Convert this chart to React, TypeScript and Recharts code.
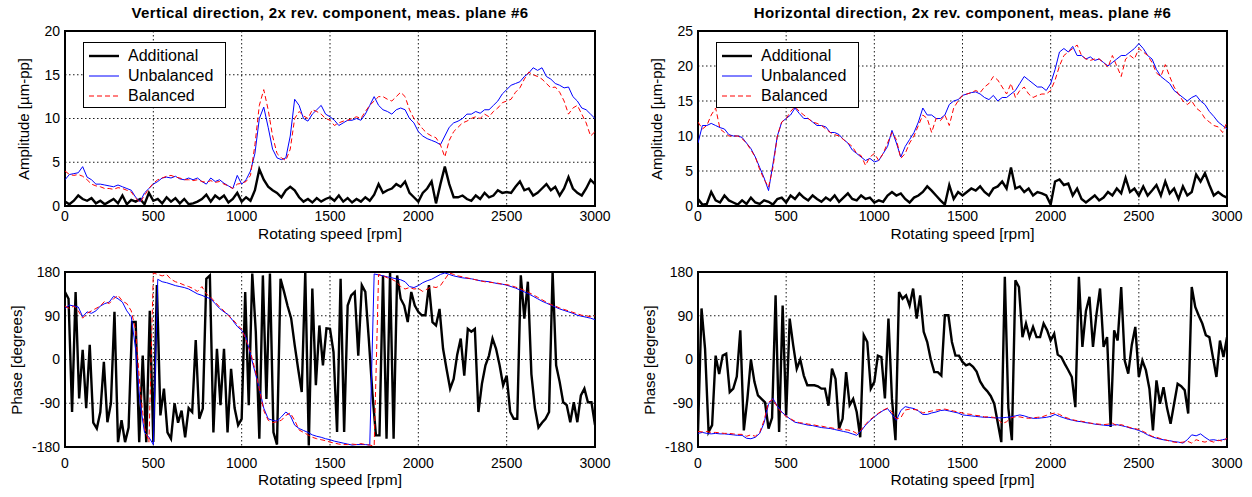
import React from 'react';
import { LineChart, Line, XAxis, YAxis, CartesianGrid, ReferenceArea, Legend } from 'recharts';

// rotating speed grid [rpm]
const speed = [
  0, 25, 50, 75, 100, 125, 150, 175, 200, 225,
  250, 275, 300, 325, 350, 375, 400, 425, 450, 475,
  500, 525, 550, 575, 600, 625, 650, 675, 700, 725,
  750, 775, 800, 825, 850, 875, 900, 925, 950, 975,
  1000, 1025, 1050, 1075, 1100, 1125, 1150, 1175, 1200, 1225,
  1250, 1275, 1300, 1325, 1350, 1375, 1400, 1425, 1450, 1475,
  1500, 1525, 1550, 1575, 1600, 1625, 1650, 1675, 1700, 1725,
  1750, 1775, 1800, 1825, 1850, 1875, 1900, 1925, 1950, 1975,
  2000, 2025, 2050, 2075, 2100, 2125, 2150, 2175, 2200, 2225,
  2250, 2275, 2300, 2325, 2350, 2375, 2400, 2425, 2450, 2475,
  2500, 2525, 2550, 2575, 2600, 2625, 2650, 2675, 2700, 2725,
  2750, 2775, 2800, 2825, 2850, 2875, 2900, 2925, 2950, 2975,
  3000,
];

// finer grid used by the "additional" phase traces
const speedFine = [
  0, 20, 40, 60, 80, 100, 120, 140, 160, 180,
  200, 220, 240, 260, 280, 300, 320, 340, 360, 380,
  400, 420, 440, 460, 480, 500, 520, 540, 560, 580,
  600, 620, 640, 660, 680, 700, 720, 740, 760, 780,
  800, 820, 840, 860, 880, 900, 920, 940, 960, 980,
  1000, 1020, 1040, 1060, 1080, 1100, 1120, 1140, 1160, 1180,
  1200, 1220, 1240, 1260, 1280, 1300, 1320, 1340, 1360, 1380,
  1400, 1420, 1440, 1460, 1480, 1500, 1520, 1540, 1560, 1580,
  1600, 1620, 1640, 1660, 1680, 1700, 1720, 1740, 1760, 1780,
  1800, 1820, 1840, 1860, 1880, 1900, 1920, 1940, 1960, 1980,
  2000, 2020, 2040, 2060, 2080, 2100, 2120, 2140, 2160, 2180,
  2200, 2220, 2240, 2260, 2280, 2300, 2320, 2340, 2360, 2380,
  2400, 2420, 2440, 2460, 2480, 2500, 2520, 2540, 2560, 2580,
  2600, 2620, 2640, 2660, 2680, 2700, 2720, 2740, 2760, 2780,
  2800, 2820, 2840, 2860, 2880, 2900, 2920, 2940, 2960, 2980,
  3000,
];

// amplitude, vertical direction [um-pp]
const ampVertAdditional = [
  0.5, 0.2, 0.6, 1.2, 0.8, 0.6, 0.9, 0.3, 0.6, 0.2,
  0.5, 0.8, 0.3, 1.2, 0.2, 0.7, 0.5, 0.8, 0.2, 1.5,
  0.6, 0.8, 0.3, 1.0, 0.5, 0.9, 0.3, 0.8, 0.2, 0.3,
  0.5, 0.8, 1.3, 0.5, 1.2, 0.8, 1.2, 0.4, 0.8, 1.5,
  0.5, 1.0, 0.6, 1.8, 4.2, 3.0, 2.2, 1.8, 1.5, 1.0,
  1.8, 2.2, 1.8, 1.0, 0.5, 0.8, 0.4, 0.9, 0.5, 0.8,
  1.0, 0.6, 1.2, 0.5, 0.9, 0.4, 0.8, 0.5, 1.0, 0.6,
  1.3, 2.5, 1.5, 1.8, 2.0, 2.5, 2.2, 2.8, 1.5, 1.0,
  0.5, 1.5, 2.0, 2.8, 0.3, 2.5, 4.5, 2.5, 1.0, 1.0,
  1.2, 0.8, 0.6, 1.2, 0.8, 1.5, 1.0, 1.2, 1.8, 1.5,
  1.6, 1.5, 2.2, 2.8, 1.8, 2.0, 1.2, 1.5, 2.0, 2.5,
  1.8, 2.2, 1.2, 2.0, 3.3, 2.0, 1.5, 1.2, 2.0, 3.0,
  2.5,
];
const ampVertUnbalanced = [
  3.0, 3.6, 3.7, 3.8, 4.5, 3.3, 3.0, 2.5, 2.5, 2.4,
  2.3, 2.2, 2.4, 2.2, 2.0, 1.8, 1.0, 0.5, 1.5, 2.0,
  2.5, 2.8, 3.2, 3.3, 3.2, 3.4, 3.1, 3.0, 3.2, 3.0,
  3.2, 2.8, 2.5, 3.2, 2.8, 3.0, 2.6, 2.3, 2.0, 3.5,
  2.5, 3.0, 4.0, 6.0, 10.0, 11.3, 9.0, 6.5, 5.5, 5.3,
  5.5, 8.0, 12.2, 11.5, 10.0, 9.7, 10.5, 11.0, 11.5, 10.5,
  10.2, 9.8, 9.2, 9.5, 9.8, 9.8, 10.0, 9.8, 10.5, 11.5,
  12.5, 11.5, 11.0, 10.8, 10.5, 11.0, 11.2, 11.0, 10.0, 9.5,
  8.5, 8.0, 7.7, 7.5, 7.3, 7.0, 8.0, 9.0, 9.5, 9.7,
  10.0, 10.5, 10.5, 10.8, 10.6, 11.0, 11.0, 11.5, 12.0, 12.8,
  13.3, 13.8, 14.0, 14.2, 14.8, 15.2, 15.8, 15.5, 15.8, 14.8,
  14.5, 14.0, 13.8, 13.5, 13.6, 12.5, 12.0, 11.2, 11.0, 10.5,
  10.0,
];
const ampVertBalanced = [
  4.0, 3.6, 3.5, 3.6, 3.4, 3.0, 2.5, 2.3, 2.2, 2.0,
  2.0, 1.9, 2.1, 2.0, 1.8, 1.6, 0.9, 0.4, 1.2, 2.0,
  2.6, 3.0, 3.2, 3.4, 3.5, 3.3, 3.2, 3.0, 3.0, 2.9,
  3.0, 2.8, 2.7, 2.9, 2.7, 2.8, 2.5, 2.3, 2.0, 2.5,
  2.6, 2.8, 3.5, 7.0, 11.5, 13.3, 11.0, 8.0, 6.0, 5.5,
  5.2, 6.5, 10.0, 10.8, 10.3, 10.0, 11.0, 10.8, 10.5, 10.0,
  9.8, 9.2, 9.5, 9.7, 9.8, 10.0, 10.2, 10.0, 10.8, 11.5,
  12.0, 12.5, 12.5, 12.2, 12.0, 12.5, 13.0, 12.5, 11.0, 10.0,
  9.5, 8.8, 8.3, 8.0, 7.8, 7.0, 5.6, 7.5, 8.5, 9.0,
  9.5, 9.7, 10.0, 10.2, 10.0, 10.5, 10.2, 10.8, 11.2, 11.8,
  12.0, 12.2, 13.0, 13.5, 14.5, 15.3, 15.0, 14.8, 14.5, 14.0,
  13.5, 13.6, 13.0, 12.0, 10.5, 11.2, 11.5, 10.5, 9.5, 8.0,
  8.5,
];

// amplitude, horizontal direction [um-pp]
const ampHorAdditional = [
  1.0, 0.2, 0.3, 2.0, 0.8, 0.5, 1.5, 0.8, 0.5, 0.2,
  0.8, 0.3, 1.2, 0.5, 0.3, 0.8, 0.6, 0.2, 1.0, 1.2,
  0.5, 1.5, 1.0, 1.8, 1.2, 0.8, 1.5, 1.0, 0.6, 1.2,
  0.8, 1.5, 0.6, 1.2, 1.8, 1.0, 0.8, 1.5, 1.0, 1.2,
  0.5, 0.8, 0.6, 1.5, 2.0, 1.5, 1.8, 1.0, 0.5, 1.2,
  1.5, 2.0, 2.8, 2.2, 1.5, 0.8, 0.2, 3.0, 1.0, 2.0,
  1.5, 2.0, 2.5, 2.2, 2.8, 2.0, 1.5, 2.5, 2.8, 3.5,
  2.5, 5.5, 2.5, 2.8, 2.0, 2.5, 1.5, 2.0, 1.8, 1.5,
  0.2, 3.5, 3.8, 3.0, 3.2, 1.5, 2.5, 1.0, 0.5, 1.0,
  1.5, 0.8, 1.2, 2.0, 1.5, 2.5, 1.8, 4.0, 2.0, 2.5,
  1.5, 2.8, 1.5, 2.2, 3.0, 1.5, 3.5, 1.8, 2.5, 1.0,
  2.8, 1.5, 2.0, 4.5, 3.5, 4.7, 3.0, 1.5, 2.0, 1.5,
  1.2,
];
const ampHorUnbalanced = [
  9.0, 11.5, 11.5, 11.8, 11.5, 11.2, 11.0, 10.2, 10.0, 10.0,
  9.8, 9.0, 8.2, 7.0, 5.5, 4.0, 2.2, 6.0, 10.0, 12.0,
  12.5, 13.0, 14.0, 13.2, 12.5, 12.5, 12.0, 11.5, 11.5, 11.3,
  10.5, 10.5, 10.2, 9.5, 9.0, 8.0, 7.5, 7.0, 6.5, 6.8,
  6.3, 6.5, 7.5, 8.5, 10.8, 9.0, 7.0, 8.5, 9.5, 10.5,
  12.0, 14.0, 13.0, 13.0, 12.5, 12.5, 13.0, 14.5, 15.0, 15.2,
  15.8, 16.0, 16.2, 16.3, 16.0, 15.5, 15.2, 15.8, 15.0, 15.5,
  15.5, 16.0, 16.5, 17.5, 18.5, 18.0, 17.5, 17.0, 17.0, 16.5,
  17.5, 19.5, 22.0, 22.5, 22.0, 22.8, 21.5, 21.5, 21.0, 21.3,
  20.8, 21.0, 20.5, 20.0, 20.5, 21.0, 21.5, 21.5, 22.0, 22.5,
  23.2, 22.5, 21.5, 21.0, 19.5, 18.5, 18.0, 17.5, 16.5, 16.0,
  15.5, 15.0, 15.5, 15.8, 15.0, 14.5, 13.5, 12.8, 12.0, 11.5,
  11.0,
];
const ampHorBalanced = [
  12.0, 11.0, 11.5, 13.0, 14.0, 11.0, 10.5, 10.0, 10.0, 10.0,
  9.6, 9.0, 8.0, 7.0, 5.2, 3.8, 2.7, 5.5, 10.0, 12.0,
  12.5, 13.5, 14.2, 13.5, 13.0, 12.5, 12.0, 11.8, 11.5, 11.0,
  10.5, 10.2, 10.0, 9.5, 9.0, 8.5, 7.5, 7.2, 5.8, 7.0,
  7.5, 6.5, 7.5, 9.0, 10.5, 9.5, 6.8, 7.5, 9.0, 10.0,
  11.5, 13.0, 12.5, 10.5, 12.5, 12.2, 13.0, 11.5, 14.0, 15.0,
  15.8, 16.0, 16.2, 16.5, 16.2, 17.0, 17.5, 18.5, 18.0, 17.0,
  16.0, 17.5, 15.5, 16.5, 17.0, 16.0, 15.5, 15.8, 16.0, 16.0,
  16.5, 18.0, 20.0, 21.5, 22.0, 22.5, 23.0, 21.5, 21.0, 20.8,
  21.0, 21.0, 20.5, 19.8, 21.5, 20.0, 18.5, 21.0, 21.5, 21.0,
  22.5, 22.0, 21.5, 20.5, 19.0, 18.5, 20.2, 18.5, 17.0, 16.0,
  15.0, 14.5, 15.0, 14.0, 13.5, 12.5, 12.0, 11.5, 11.3, 10.5,
  12.0,
];

// phase, vertical direction [degrees]
const phaseVertAdditional = [
  139, 125, -108, 139, -80, 20, -100, 30, -130, -142,
  -108, -5, -129, -90, 98, -170, -125, -170, -140, 77,
  77, -170, 8, -170, 100, -170, 153, -115, -60, -150,
  -163, -90, -130, -105, -160, -100, -108, 40, -122, -101,
  166, 173, -150, 22, -94, 22, -150, -19, -100, -135,
  -122, 139, -94, 177, 57, -163, 173, -81, 177, -150,
  -175, 166, 139, 110, 85, 30, -20, -67, 180, -177,
  146, -53, 70, -12, 64, 63, 15, -149, 166, -149,
  111, 132, 139, 8, 153, 139, 40, -70, -156, -156,
  173, -163, 180, -163, 173, 125, 111, 77, 139, 111,
  98, 91, 91, 153, 77, 70, 104, 22, -20, -60,
  -40, 10, 43, -33, 63, 57, 63, -108, -50, -12,
  8, 43, 22, -12, -53, -33, -108, -122, -122, 173,
  84, 160, -30, -100, -140, -130, -122, -108, 180, -12,
  -46, -88, -94, -129, -88, -129, -74, -60, -88, -88,
  -135,
];
const phaseVertUnbalanced = [
  105, 112, 110, 108, 88, 98, 95, 100, 110, 115,
  118, 130, 125, 118, 100, 88, 20, -90, -150, -160,
  -175, 165, 160, 158, 155, 152, 150, 148, 145, 140,
  135, 132, 128, 125, 115, 105, 98, 92, 80, 68,
  60, 45, 10, -25, -60, -100, -122, -125, -127, -118,
  -108, -115, -135, -142, -146, -150, -155, -158, -160, -163,
  -165, -168, -170, -172, -174, -176, -175, -175, -175, -176,
  176, 174, 172, 170, 168, 166, 164, 160, 150, 148,
  152, 158, 162, 165, 170, 175, 178, 175, 172, 170,
  168, 167, 166, 164, 162, 161, 160, 158, 156, 155,
  153, 150, 147, 143, 139, 135, 130, 125, 120, 116,
  112, 108, 104, 101, 98, 95, 91, 89, 87, 85,
  82,
];
const phaseVertBalanced = [
  110, 105, 110, 100, 85, 95, 100, 105, 110, 120,
  115, 125, 132, 120, 115, 100, 60, -60, -140, -170,
  178, 175, 172, 175, 165, 160, 157, 153, 150, 146,
  140, 150, 135, 128, 118, 108, 100, 90, 82, 72,
  62, 40, 15, -20, -60, -105, -125, -130, -128, -125,
  -115, -110, -125, -145, -150, -155, -160, -163, -165, -167,
  -170, -172, -174, -175, -175, -174, -175, -173, -175, -176,
  -178, 175, 172, 168, 165, 160, 150, 145, 148, 145,
  146, 140, 145, 150, 148, 152, 165, 178, 175, 172,
  170, 168, 166, 164, 162, 160, 159, 158, 157, 155,
  154, 152, 149, 146, 142, 138, 133, 128, 123, 118,
  113, 110, 106, 103, 100, 97, 94, 91, 90, 88,
  90,
];

// phase, horizontal direction [degrees]
const phaseHorAdditional = [
  -149, 105, 22, -149, -135, 8, -30, 8, 12, -67,
  -60, -35, 60, -146, -81, 0, -46, -74, -81, -88,
  -142, -120, 132, -149, 111, -115, 84, 29, -19, 0,
  -33, -53, -53, -53, -55, -60, -60, -95, -19, -40,
  -142, -122, -26, -94, -81, -108, -160, 50, 36, -60,
  -46, 8, 5, -80, 84, -81, -166, 139, 125, 132,
  111, 146, 84, 132, 57, 36, 0, -26, -26, -33,
  91, 91, 36, 8, 8, -5, -12, -9, -15, -25,
  -45, -57, -65, -75, -91, -130, -170, 170, -100, -166,
  163, 149, 46, 74, 46, 67, 46, 46, 74, 60,
  39, 53, 10, 5, -9, -22, -36, -98, 170, 26,
  100, 129, 26, 94, 146, 26, 46, -139, 60, 39,
  149, -2, -29, 30, 67, -36, -2, -22, -60, -146,
  -43, -91, -57, -100, -132, -91, -50, -55, -63, -111,
  149, 108, 90, 74, 50, 46, 5, -36, 39, 5,
  46,
];
const phaseHorUnbalanced = [
  -152, -150, -152, -153, -152, -153, -153, -154, -155, -156,
  -156, -162, -163, -160, -152, -130, -92, -80, -96, -108,
  -116, -123, -129, -131, -133, -135, -136, -138, -140, -141,
  -142, -144, -146, -148, -150, -153, -156, -147, -135, -126,
  -118, -111, -105, -101, -113, -125, -105, -97, -99, -101,
  -106, -113, -113, -110, -108, -105, -104, -106, -108, -110,
  -114, -115, -116, -117, -118, -119, -119, -120, -120, -120,
  -119, -118, -116, -114, -116, -119, -121, -121, -120, -119,
  -117, -113, -117, -120, -123, -125, -127, -128, -130, -131,
  -133, -134, -135, -136, -135, -134, -136, -138, -141, -143,
  -146, -150, -155, -159, -162, -164, -166, -167, -169, -170,
  -172, -165, -155, -157, -153, -160, -166, -165, -167, -165,
  -163,
];
const phaseHorBalanced = [
  -148, -149, -148, -150, -150, -151, -152, -152, -153, -154,
  -154, -158, -155, -158, -150, -125, -88, -82, -98, -110,
  -117, -122, -127, -130, -131, -133, -134, -136, -137, -139,
  -140, -142, -143, -144, -145, -147, -152, -145, -133, -124,
  -117, -110, -104, -100, -108, -122, -120, -104, -102, -103,
  -104, -110, -108, -106, -104, -103, -102, -104, -106, -108,
  -110, -112, -113, -115, -116, -118, -118, -119, -122, -132,
  -128, -120, -118, -118, -120, -121, -120, -119, -118, -115,
  -112, -110, -113, -118, -121, -124, -126, -127, -129, -131,
  -132, -133, -134, -133, -131, -136, -134, -137, -140, -142,
  -144, -148, -153, -158, -160, -163, -165, -168, -170, -171,
  -170, -168, -172, -165, -168, -170, -167, -170, -166, -168,
  -162,
];

const speedTicks = [0, 500, 1000, 1500, 2000, 2500, 3000];
const ampVertTicks = [0, 5, 10, 15, 20];
const ampHorTicks = [0, 5, 10, 15, 20, 25];
const phaseTicks = [-180, -90, 0, 90, 180];

const FONT = '"Liberation Sans", Arial, Helvetica, sans-serif';

type Series = { name: string; color: string; width: number; dash?: string; xs: number[]; ys: number[] };

const toRows = (xs: number[], ys: number[]) => xs.map((s, i) => ({ speed: s, value: ys[i] }));

const makeSeries = (add: number[], addX: number[], unb: number[], bal: number[]): Series[] => [
  { name: 'Additional', color: '#000000', width: 2.4, xs: addX, ys: add },
  { name: 'Unbalanced', color: '#0000ff', width: 1, xs: speed, ys: unb },
  { name: 'Balanced', color: '#ff0000', width: 1, dash: '5 3', xs: speed, ys: bal },
];

function LegendBox({ series }: { series: Series[] }) {
  return (
    <div
      style={{
        border: '1.5px solid #000',
        background: '#fff',
        width: 143,
        height: 66,
        boxSizing: 'border-box',
        paddingTop: 3,
        fontFamily: FONT,
        fontSize: 16,
        color: '#000',
      }}
    >
      {series.map((s) => (
        <div key={s.name} style={{ display: 'flex', alignItems: 'center', height: 20 }}>
          <svg width={44} height={20}>
            <line x1={5} x2={35} y1={10} y2={10} stroke={s.color} strokeWidth={s.width} strokeDasharray={s.dash} />
          </svg>
          <span>{s.name}</span>
        </div>
      ))}
    </div>
  );
}

type PanelProps = {
  box: { left: number; top: number; width: number; height: number };
  plot: { left: number; top: number; right: number; bottom: number };
  yDomain: [number, number];
  yTicks: number[];
  title?: string;
  yLabel: string;
  yLabelX: number;
  xTickGap: number;
  xLabelY: number;
  series: Series[];
  legend?: boolean;
};

function Panel({ box, plot, yDomain, yTicks, title, yLabel, yLabelX, xTickGap, xLabelY, series, legend }: PanelProps) {
  const cx = (plot.left + plot.right) / 2;
  const tickStyle = { fill: '#000', fontSize: 14, fontFamily: FONT };
  return (
    <>
      <div style={{ position: 'absolute', left: box.left, top: box.top }}>
        <LineChart
          width={box.width}
          height={box.height}
          margin={{ top: plot.top - box.top, right: box.left + box.width - plot.right, bottom: 0, left: 0 }}
        >
          <CartesianGrid stroke="#000" strokeDasharray="1.5 2.5" strokeWidth={0.9} />
          <XAxis
            type="number"
            dataKey="speed"
            domain={[0, 3000]}
            ticks={speedTicks}
            interval={0}
            allowDataOverflow
            axisLine={false}
            tickLine={false}
            tickSize={xTickGap}
            tickMargin={0}
            height={box.top + box.height - plot.bottom}
            tick={tickStyle}
          />
          <YAxis
            type="number"
            domain={yDomain}
            ticks={yTicks}
            interval={0}
            allowDataOverflow
            axisLine={false}
            tickLine={false}
            tickSize={4}
            tickMargin={1}
            width={plot.left - box.left}
            tick={tickStyle}
          />
          {series.map((s) => (
            <Line
              key={s.name}
              data={toRows(s.xs, s.ys)}
              dataKey="value"
              name={s.name}
              type="linear"
              stroke={s.color}
              strokeWidth={s.width}
              strokeDasharray={s.dash}
              dot={false}
              activeDot={false}
              isAnimationActive={false}
            />
          ))}
          <ReferenceArea
            x1={0}
            x2={3000}
            y1={yDomain[0]}
            y2={yDomain[1]}
            fill="none"
            fillOpacity={0}
            stroke="#000"
            strokeWidth={2}
          />
          {legend && (
            <Legend
              layout="vertical"
              align="center"
              verticalAlign="middle"
              wrapperStyle={{ left: plot.left - box.left + 18, top: plot.top - box.top + 11, width: 143 }}
              content={() => <LegendBox series={series} />}
            />
          )}
        </LineChart>
      </div>
      {title && (
        <div
          style={{
            position: 'absolute',
            left: cx,
            top: 12,
            transform: 'translate(-50%, -50%)',
            whiteSpace: 'nowrap',
            fontWeight: 'bold',
            fontSize: 15,
            letterSpacing: 0.4,
            lineHeight: 1,
          }}
        >
          {title}
        </div>
      )}
      <div
        style={{
          position: 'absolute',
          left: cx,
          top: xLabelY,
          transform: 'translate(-50%, -50%)',
          whiteSpace: 'nowrap',
          fontSize: 15.5,
          lineHeight: 1,
        }}
      >
        Rotating speed [rpm]
      </div>
      <div
        style={{
          position: 'absolute',
          left: yLabelX,
          top: (plot.top + plot.bottom) / 2,
          transform: 'translate(-50%, -50%) rotate(-90deg)',
          whiteSpace: 'nowrap',
          fontSize: 15,
          lineHeight: 1,
        }}
      >
        {yLabel}
      </div>
    </>
  );
}

export default function App() {
  return (
    <div
      style={{
        position: 'absolute',
        left: 0,
        top: 0,
        width: 1252,
        height: 497,
        background: '#fff',
        overflow: 'hidden',
        fontFamily: FONT,
        color: '#000',
      }}
    >
      <Panel
        box={{ left: 0, top: 0, width: 620, height: 250 }}
        plot={{ left: 65, top: 31, right: 595, bottom: 206 }}
        yDomain={[0, 20]}
        yTicks={ampVertTicks}
        title="Vertical direction, 2x rev. component, meas. plane #6"
        yLabel="Amplitude [µm-pp]"
        yLabelX={23}
        xTickGap={5}
        xLabelY={234}
        series={makeSeries(ampVertAdditional, speed, ampVertUnbalanced, ampVertBalanced)}
        legend
      />
      <Panel
        box={{ left: 620, top: 0, width: 632, height: 250 }}
        plot={{ left: 698, top: 31, right: 1227, bottom: 206 }}
        yDomain={[0, 25]}
        yTicks={ampHorTicks}
        title="Horizontal direction, 2x rev. component, meas. plane #6"
        yLabel="Amplitude [µm-pp]"
        yLabelX={656}
        xTickGap={5}
        xLabelY={234}
        series={makeSeries(ampHorAdditional, speed, ampHorUnbalanced, ampHorBalanced)}
        legend
      />
      <Panel
        box={{ left: 0, top: 250, width: 620, height: 247 }}
        plot={{ left: 65, top: 272, right: 595, bottom: 447 }}
        yDomain={[-180, 180]}
        yTicks={phaseTicks}
        yLabel="Phase [degrees]"
        yLabelX={16}
        xTickGap={11}
        xLabelY={480}
        series={makeSeries(phaseVertAdditional, speedFine, phaseVertUnbalanced, phaseVertBalanced)}
      />
      <Panel
        box={{ left: 620, top: 250, width: 632, height: 247 }}
        plot={{ left: 698, top: 272, right: 1227, bottom: 447 }}
        yDomain={[-180, 180]}
        yTicks={phaseTicks}
        yLabel="Phase [degrees]"
        yLabelX={649}
        xTickGap={11}
        xLabelY={480}
        series={makeSeries(phaseHorAdditional, speedFine, phaseHorUnbalanced, phaseHorBalanced)}
      />
    </div>
  );
}
